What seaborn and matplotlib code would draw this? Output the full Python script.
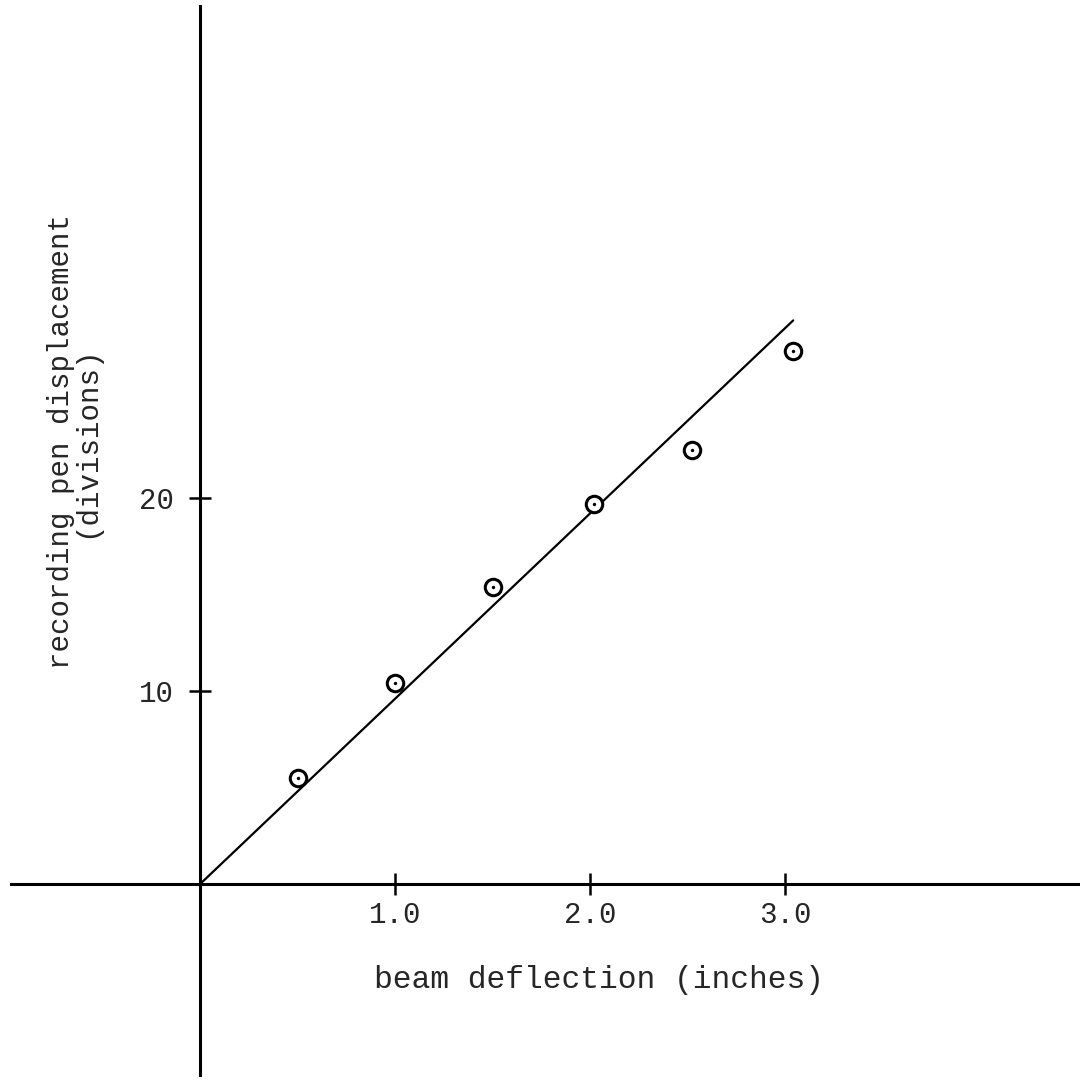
import matplotlib
matplotlib.use("Agg")
import matplotlib.pyplot as plt
import seaborn as sns

# measured points (beam deflection in inches, pen displacement in divisions)
deflection = [0.5, 1.0, 1.5, 2.02, 2.52, 3.04]
displacement = [5.5, 10.4, 15.4, 19.7, 22.5, 27.6]

# drawn straight line through the origin
fit_x = [0.0, 3.04]
fit_y = [0.0, 29.2]

x_ticks = [1.0, 2.0, 3.0]
x_ticklabels = ["1.0", "2.0", "3.0"]
y_ticks = [10, 20]
y_ticklabels = ["10", "20"]

sns.set_style("white")
plt.rcParams["font.family"] = ["Liberation Mono", "DejaVu Sans Mono"]

fig = plt.figure(figsize=(10.8, 10.82), dpi=100)
ax = fig.add_axes([0, 0, 1, 1])

sns.lineplot(x=fit_x, y=fit_y, ax=ax, color="black", lw=1.6)
sns.scatterplot(x=deflection, y=displacement, ax=ax, marker="o", s=140,
                facecolor="white", edgecolor="black", linewidth=2.2, zorder=3)
sns.scatterplot(x=deflection, y=displacement, ax=ax, marker="o", s=6,
                color="black", linewidth=0, zorder=4)

ax.set_xlim(-1.026, 4.51)
ax.set_ylim(-10.26, 45.8)

# axes crossing at the origin
for side in ["top", "right"]:
    ax.spines[side].set_visible(False)
ax.spines["left"].set_position(("data", 0))
ax.spines["bottom"].set_position(("data", 0))
ax.spines["left"].set_bounds(-9.9, 45.5)
ax.spines["bottom"].set_bounds(-0.97, 4.51)
for side in ["left", "bottom"]:
    ax.spines[side].set_linewidth(2.2)
    ax.spines[side].set_color("black")

ax.set_xticks(x_ticks, x_ticklabels)
ax.set_yticks(y_ticks, y_ticklabels)
ax.tick_params(axis="both", direction="inout", length=16, width=1.8,
               labelsize=21, color="black", bottom=True, left=True)
ax.tick_params(axis="x", pad=4)
ax.tick_params(axis="y", pad=11)

fig.text(0.555, 0.094, "beam deflection (inches)", ha="center", va="center",
         fontsize=22.5)
fig.text(0.068, 0.592, "recording pen displacement\n(divisions)", ha="center",
         va="center", rotation=90, fontsize=21, multialignment="center",
         linespacing=0.85)

fig.savefig("out.png", dpi=100, facecolor="white")
